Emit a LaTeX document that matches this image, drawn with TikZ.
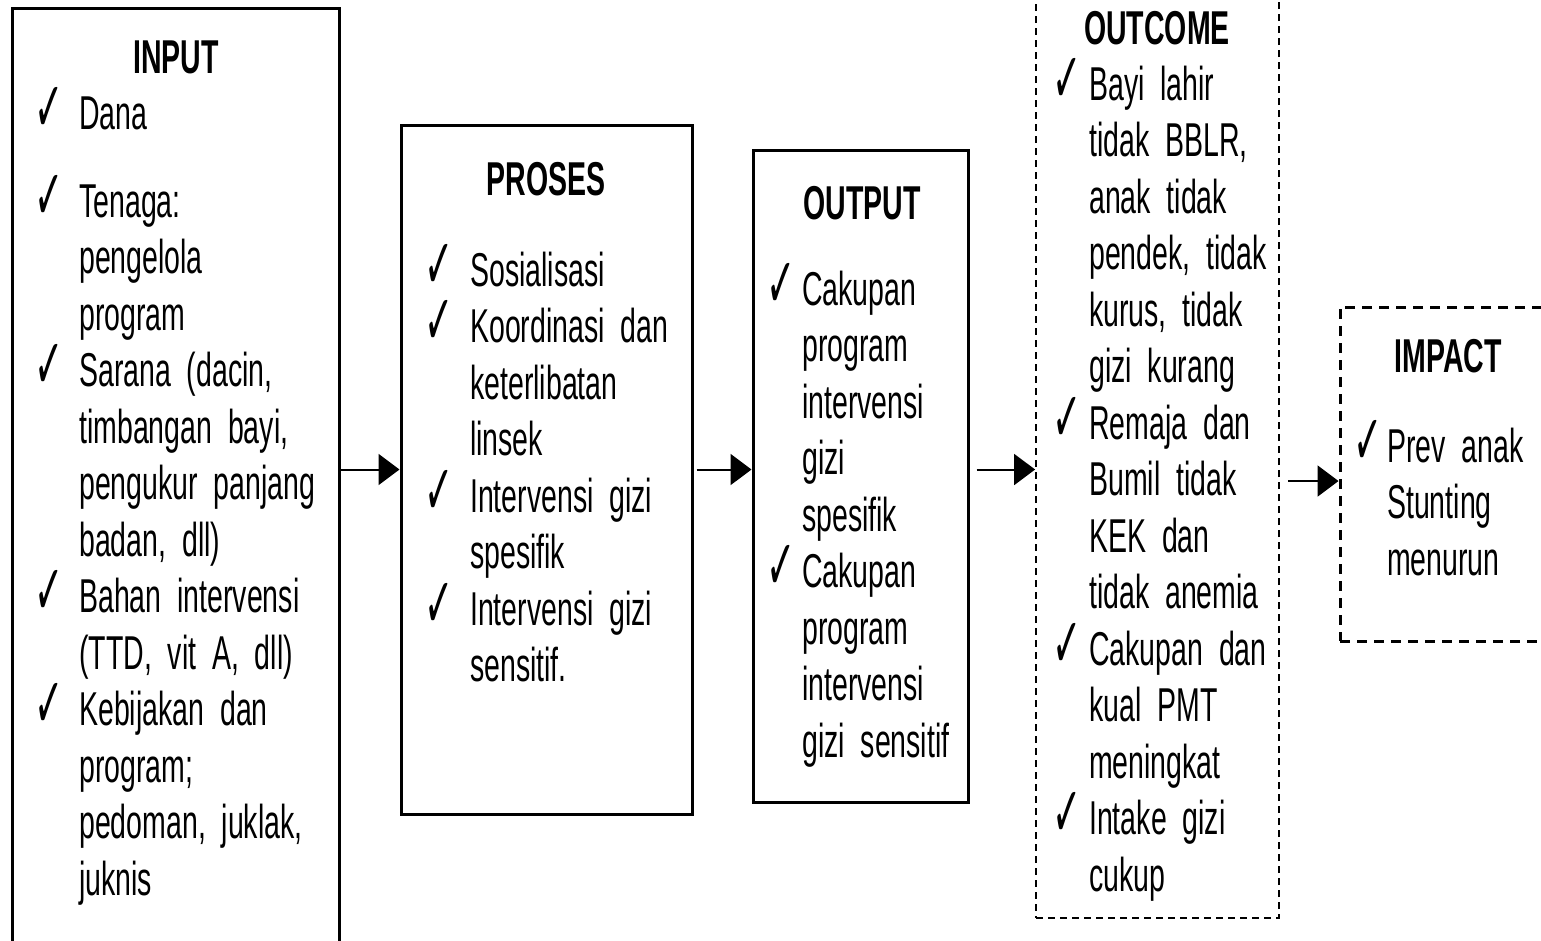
\documentclass[tikz,border=0pt]{standalone}
\usepackage{fontspec}
\setmainfont{Liberation Sans}[FakeStretch=0.6]
\newfontfamily\chkfont{DejaVu Sans}[FakeStretch=0.5]
\usetikzlibrary{arrows.meta}
\newlength\ciw
\newcommand\chk{\makebox[\ciw][l]{\hspace*{-4pt}\raisebox{-2pt}[0pt][0pt]{\chkfont\fontsize{70}{70}\selectfont ✓}}}
\newcommand\cifirst{\hangindent=\ciw\hangafter=1\noindent\strut\chk}
\newcommand\ci{\par\cifirst}
\newcommand\nl{\unskip\nobreak\hfil\break}
\newcommand\itemfont{\fontsize{47.5}{56.5}\selectfont\fontdimen2\font=6.6pt\fontdimen3\font=2pt\fontdimen4\font=1pt\spaceskip=0pt\xspaceskip=0pt\relax}
\begin{document}
\begin{tikzpicture}[x=1pt,y=-1pt,
  solidbox/.style={draw, line width=3pt, inner sep=0pt},
  dashbox/.style={draw, line width=1.8pt, dash pattern=on 7pt off 5pt, inner sep=0pt},
  dashbold/.style={draw, line width=3pt, dash pattern=on 10pt off 7pt, inner sep=0pt},
  title/.style={font=\fontsize{47.5}{56.5}\selectfont\bfseries, anchor=base, inner sep=0pt},
  items/.style={font=\itemfont, anchor=north west, inner sep=0pt, text width=420pt},
  arr/.style={line width=2pt, -{Triangle[length=21pt,width=31pt]}}]
\useasboundingbox (0,0) rectangle (1541,940);
\clip (0,0) rectangle (1541,940);
% boxes
\node[solidbox, minimum width=327pt, minimum height=972pt] (input) at (175.5,494) {};
\node[solidbox, minimum width=291pt, minimum height=689pt] (proses) at (546.5,469.5) {};
\node[solidbox, minimum width=215pt, minimum height=652pt] (output) at (860.5,476) {};
\node[dashbox, minimum width=243pt, minimum height=958pt] (outcome) at (1157.5,439) {};
\node[dashbold, minimum width=240pt, minimum height=334pt] (impact) at (1460,474) {};
% titles
\node[title] (tin) at (176,73) {INPUT};
\node[title] (tpr) at (546,195) {PROSES};
\node[title] (tout) at (862,219) {OUTPUT};
\node[title] (toc) at (1157,44) {OUTCOME};
\node[title] (tim) at (1448,372) {IMPACT};
% lists
\node[items] (lin) at (38,89.45) {\setlength\ciw{41pt}%
\cifirst Dana\par\vspace{31.5pt}%
\ci Tenaga:\nl pengelola\nl program
\ci Sarana (dacin,\nl timbangan bayi,\nl pengukur panjang\nl badan, dll)
\ci Bahan intervensi\nl (TTD, vit A, dll)
\ci Kebijakan dan\nl program;\nl pedoman, juklak,\nl juknis\par};
\node[items] (lpr) at (428,246.45) {\setlength\ciw{42pt}%
\cifirst Sosialisasi
\ci Koordinasi dan\nl keterlibatan\nl linsek
\ci Intervensi gizi\nl spesifik
\ci Intervensi gizi\nl sensitif.\par};
\node[items] (lout) at (770,265.45) {\setlength\ciw{32pt}%
\cifirst Cakupan\nl program\nl intervensi\nl gizi\nl spesifik
\ci Cakupan\nl program\nl intervensi\nl gizi sensitif\par};
\node[items] (loc) at (1056,60.45) {\setlength\ciw{33pt}%
\cifirst Bayi lahir\nl tidak BBLR,\nl anak tidak\nl pendek, tidak\nl kurus, tidak\nl gizi kurang
\ci Remaja dan\nl Bumil tidak\nl KEK dan\nl tidak anemia
\ci Cakupan dan\nl kual PMT\nl meningkat
\ci Intake gizi\nl cukup\par};
\node[items] (lim) at (1357,422.45) {\setlength\ciw{30pt}%
\cifirst Prev anak\nl Stunting\nl menurun\par};
% arrows
\coordinate (a4) at (0,481);
\draw[arr] (input.east |- proses.west) -- (proses.west);
\draw[arr, shorten <=3pt] (proses.east) -- (output.west |- proses.east);
\draw[arr, shorten <=7pt] (output.east |- proses.east) -- (outcome.west |- proses.east);
\draw[arr, shorten <=8pt] (outcome.east |- a4) -- (impact.west |- a4);
\end{tikzpicture}
\end{document}
